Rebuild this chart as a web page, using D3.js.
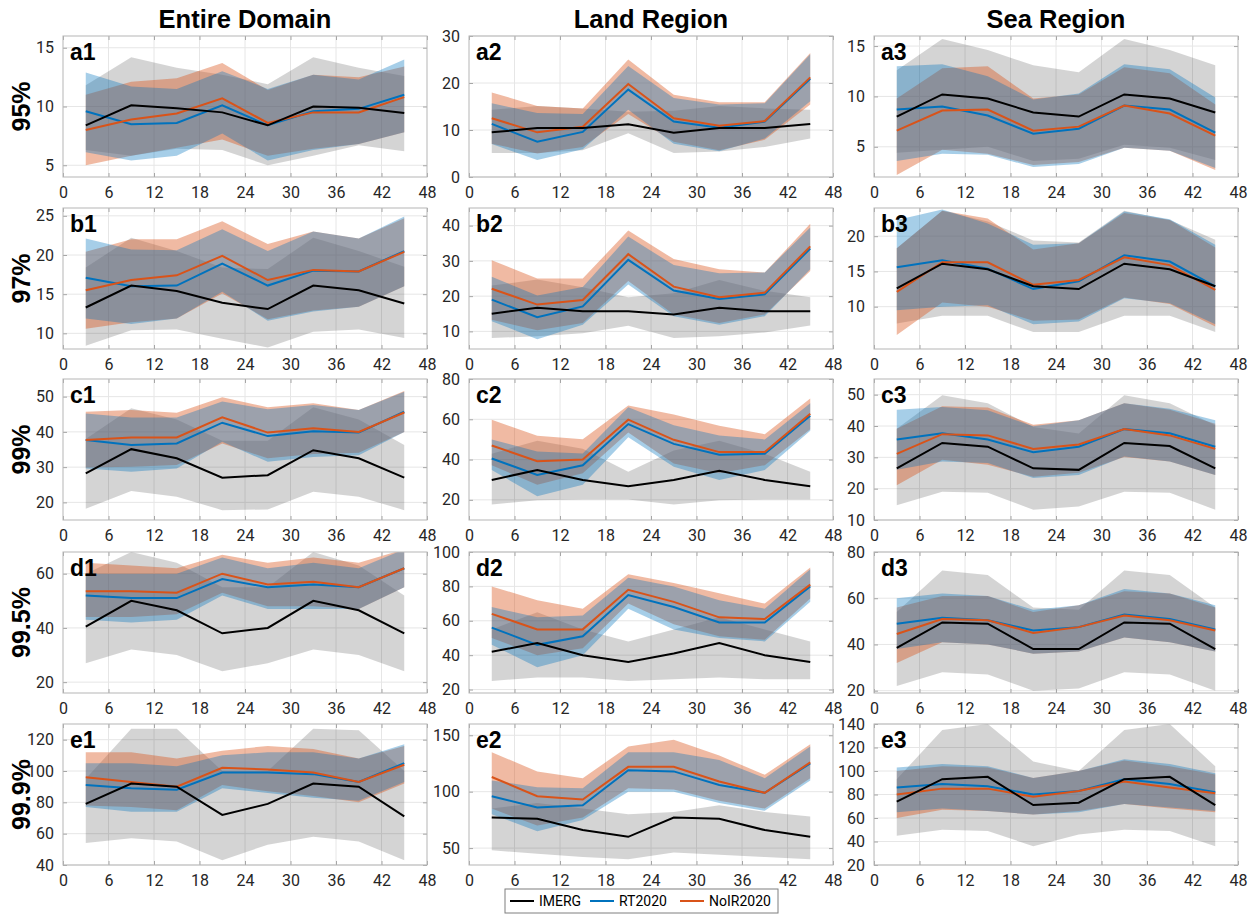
<!DOCTYPE html>
<html>
<head>
<meta charset="utf-8">
<script src="https://cdn.jsdelivr.net/npm/d3@7/dist/d3.min.js"></script>
<style>
  body { margin: 0; background: #fff; }
  svg text { font-family: Roboto, "Liberation Sans", sans-serif; }
</style>
</head>
<body>
<svg id="chart" width="1255" height="915"></svg>
<script>
// x positions (hour) of every point
const hours = [3, 9, 15, 21, 27, 33, 39, 45];
const xTicks = [0, 6, 12, 18, 24, 30, 36, 42, 48];
const colTitles = ['Entire Domain', 'Land Region', 'Sea Region'];
const rowLabels = ['95%', '97%', '99%', '99.5%', '99.9%'];
const panelIds = ['a1','a2','a3','b1','b2','b3','c1','c2','c3','d1','d2','d3','e1','e2','e3'];
const seriesNames = ['IMERG', 'RT2020', 'NoIR2020'];

const yDomains = [[4,16],[0,30],[2,16],[8,26],[5,45],[4,24],[15,55],[10,80],[10,55],
                  [16,68],[18,100],[19,80],[40,130],[35,160],[20,140]];
const yTicks = [[5,10,15],[0,10,20,30],[5,10,15],[10,15,20,25],[10,20,30,40],[10,15,20],
                [20,30,40,50],[20,40,60,80],[10,20,30,40,50],[20,40,60],[20,40,60,80,100],
                [20,40,60,80],[40,60,80,100,120],[50,100,150],[20,40,60,80,100,120,140]];

// IMERG
const imergMid = [
  [8.4,10.1,9.85,9.5,8.4,10.0,9.9,9.45],
  [9.5,10.4,10.4,11.2,9.4,10.4,10.4,11.3],
  [8.0,10.2,9.8,8.4,8.0,10.2,9.8,8.4],
  [13.3,16.1,15.4,13.9,13.1,16.1,15.5,13.8],
  [15.0,16.7,15.7,15.7,14.8,16.7,15.7,15.7],
  [12.6,16.1,15.3,12.9,12.5,16.1,15.3,12.9],
  [28.2,35.1,32.5,27.0,27.7,34.8,32.5,27.0],
  [29.9,34.8,29.9,26.7,29.9,34.5,29.9,26.7],
  [26.5,34.6,33.4,26.5,26.0,34.6,33.6,26.5],
  [40.5,50,46.5,38,40,50,46.5,38],
  [42,47,40,36,41,47,40,36],
  [38.5,49.5,49,38,38,49.5,49,38],
  [79,92,90,72,79,92,90,71],
  [77,76,66,60,77,76,66,60],
  [74,93,95,71,73,93,95,71]
];
const imergLo = [
  [6.3,5.8,6.4,6.3,5.0,5.8,6.7,6.2],
  [5.1,5.1,5.7,9.3,5.1,5.4,6.4,8.2],
  [4.4,4.7,5.0,3.6,3.8,5.2,4.9,3.7],
  [8.4,10.4,10.5,9.3,8.2,10.2,10.5,9.4],
  [8.1,8.6,9.5,11.6,8.1,8.6,9.7,11.7],
  [7.6,8.7,8.7,6.4,6.4,8.7,8.7,6.4],
  [18.2,23.2,21.6,17.8,18.0,23.0,21.6,17.8],
  [17.7,19.8,20.2,20.2,17.7,19.8,20.2,20.2],
  [14.7,19.0,18.7,13.3,14.3,19.0,18.7,13.3],
  [27,32,30,24,27,32,30,24],
  [25,27,27,25,26,27,26,26],
  [22,28,27,20,21,28,27,20],
  [54,57,55,43,53,58,55,43],
  [48,45,42,40,46,44,42,40],
  [45,50,49,36,46,50,49,36]
];
const imergHi = [
  [11.8,14.2,13.3,12.7,11.9,14.2,13.3,12.6],
  [14.3,15.1,14.6,13.9,14.1,15.1,14.6,14.3],
  [12.6,15.7,14.6,13.1,12.4,15.7,14.6,13.1],
  [18.4,22.2,20.5,18.4,18.2,22.2,20.5,18.5],
  [23.0,24.7,22.5,19.7,20.8,24.6,21.5,19.7],
  [18.3,23.6,22.1,19.4,19.1,23.6,22.3,19.5],
  [38.0,46.7,43.5,37.5,37.5,47.0,43.5,36.3],
  [42.9,49.4,45.4,34.0,44.5,49.4,42.9,34.0],
  [39.1,49.8,47.3,39.7,37.6,49.8,47.3,40.2],
  [60,68,64,55,55,68,63,52],
  [55,65,55,48,55,62,55,48],
  [54,72,70,56,55,72,70,56],
  [95,127,127,100,100,127,126,100],
  [85,90,85,80,82,88,82,78],
  [93,135,140,108,100,135,140,104]
];

// RT2020
const rtMid = [
  [9.6,8.5,8.6,10.1,8.4,9.6,9.8,11.0],
  [11.3,7.5,9.6,18.6,11.8,10.5,11.8,20.9],
  [8.7,9.0,8.1,6.3,6.8,9.1,8.7,6.4],
  [17.1,16.0,16.1,18.9,16.1,18.0,17.9,20.5],
  [19.0,14.0,17.1,30.3,21.6,19.2,20.5,33.5],
  [15.6,16.6,15.4,12.5,13.6,17.3,16.4,12.9],
  [37.7,36.3,36.7,42.6,38.8,40.2,39.8,45.7],
  [40.5,32.4,37.2,57.6,47.8,42.4,42.9,61.8],
  [35.7,37.7,35.7,31.6,33.4,39.0,37.7,33.4],
  [52,51,51,58,55,56,55,62],
  [56,46,51,75,68,59,59,80],
  [49,51.5,50.5,46,47.5,53,51,46.5],
  [91,89,88,99,99,98,93,105],
  [96,86,88,119,118,106,99,125],
  [86,89,87,80,83,93,89,82]
];
const rtLo = [
  [6.1,5.4,5.8,7.7,5.4,6.3,6.8,7.8],
  [7.0,3.6,5.9,14.3,7.1,5.5,8.2,16.1],
  [3.6,4.3,4.2,3.0,3.3,4.9,4.6,2.9],
  [11.9,11.2,11.9,15.3,11.6,12.8,13.4,16.0],
  [12.9,7.8,11.9,23.3,14.3,11.9,14.3,27.6],
  [9.5,10.0,10.2,7.5,7.9,11.2,10.5,7.5],
  [29.6,28.7,29.6,37.2,31.5,32.9,33.4,40.0],
  [34.8,21.8,27.5,51.1,36.4,29.9,34.8,54.3],
  [26.0,28.7,28.2,23.4,24.4,30.3,28.7,24.4],
  [43,42,43,52,47,47,47,55],
  [46,33,40,67,55,50,48,71],
  [38,41,40,36,37,43,41,37],
  [77,74,74,89,86,83,81,93],
  [80,65,75,100,100,90,83,110],
  [65,68,66,63,65,72,69,66]
];
const rtHi = [
  [12.9,11.7,11.5,13.0,11.5,12.7,12.3,14.0],
  [15.7,13.6,13.4,23.6,16.8,15.4,15.7,26.1],
  [13.0,13.2,12.0,9.7,10.3,13.2,12.7,9.9],
  [22.1,20.7,20.6,23.3,20.5,23.0,22.1,24.9],
  [25.5,20.2,22.6,36.9,28.8,26.5,26.7,39.5],
  [22.3,23.8,21.8,18.8,19.0,23.5,22.4,18.8],
  [45.2,44.1,44.1,48.6,46.4,47.6,46.2,51.4],
  [50,44,43,66,57,52,50,68],
  [45.2,46.1,45.0,39.9,41.8,47.3,45.5,41.8],
  [60,60,60,66,62,64,62,69],
  [68,62,63,85,80,72,67,90],
  [60,62,61,55,57,64,62,57],
  [105,105,103,110,112,112,108,117],
  [110,104,103,135,135,128,112,140],
  [103,106,104,94,100,110,106,98]
];

// NoIR2020
const noirMid = [
  [8.0,8.9,9.4,10.7,8.6,9.5,9.5,10.8],
  [12.5,9.5,10.7,19.8,12.5,10.9,11.9,21.2],
  [6.6,8.6,8.7,6.6,7.0,9.1,8.3,6.1],
  [15.5,16.8,17.4,19.9,16.8,18.1,17.9,20.4],
  [22.1,17.6,18.9,31.9,22.7,19.7,21.0,34.1],
  [12.1,16.3,16.3,13.1,13.8,17.0,15.9,12.4],
  [37.7,38.4,38.4,44.1,39.8,41.0,40.0,45.5],
  [47.0,39.2,40.0,59.8,49.8,43.7,43.7,62.7],
  [31.1,37.4,37.0,32.7,34.1,39.0,37.0,32.7],
  [53.5,53.5,53,60,56,57,55,62],
  [64,55,55,78,71,62,61,81],
  [44.5,51,50.5,45,47.5,52.5,50.5,46],
  [96,93,90,102,101,99,93,104],
  [113,96,93,122,122,109,99,126],
  [80,85,85,78,83,91,86,81]
];
const noirLo = [
  [5.0,5.8,6.5,7.2,5.8,6.4,6.8,7.8],
  [7.1,5.0,6.4,13.4,7.5,5.7,7.9,15.4],
  [2.2,4.7,4.3,3.2,3.5,4.9,4.6,2.7],
  [10.6,11.4,11.9,15.1,11.8,12.9,13.4,16.0],
  [13.3,10.3,12.4,24.3,14.8,12.4,14.8,27.1],
  [6.0,10.6,10.0,8.0,8.2,11.3,10.4,7.2],
  [29.9,30.1,30.6,36.7,32.5,33.7,34.1,40.0],
  [37.2,27.5,33.2,53.5,38.0,33.2,37.2,55.0],
  [21.1,29.2,27.6,23.8,25.1,30.1,28.7,24.4],
  [44,44,45,53,48,48,47,55],
  [50,40,44,70,58,51,49,73],
  [32,41,40,36,37,43,41,37],
  [78,77,75,91,87,84,80,92],
  [85,70,77,103,102,92,85,112],
  [60,67,66,63,66,72,68,65]
];
const noirHi = [
  [11.0,12.1,12.4,13.7,11.4,12.7,12.5,13.4],
  [18.0,15.1,14.6,25.0,17.5,15.9,15.9,26.4],
  [9.8,12.8,13.0,9.8,10.2,12.9,12.3,9.2],
  [20.4,22.0,22.0,24.3,21.4,23.0,22.1,24.7],
  [30.2,25.0,25.0,38.6,30.5,27.6,26.7,40.5],
  [18.3,23.6,22.5,18.1,19.0,23.3,22.3,18.4],
  [45.7,46.2,45.4,49.8,47.0,48.1,46.2,51.6],
  [59.8,51.8,50.1,66.9,62.4,56.8,52.6,70.3],
  [39.1,46.3,45.9,40.4,41.8,47.3,45.2,40.7],
  [64,63,62,67,64,66,64,69],
  [80,72,67,87,82,76,70,91],
  [56,61,61,54,57,63,62,56],
  [112,112,108,113,116,114,108,116],
  [135,118,112,140,146,132,115,142],
  [100,104,103,94,100,109,104,97]
];

const lineColors = ['#000000', '#0072BD', '#D95319'];
// shaded ranges: colour + opacity, drawn gray -> orange -> blue
const bandColors = ['#000000', '#0072BD', '#D95319'];
const bandAlpha = [0.17, 0.35, 0.4];

const svg = d3.select('#chart');
const colX = [63, 469, 874];
const rowY = [36, 208, 379, 552, 724];
const plotW = 364, plotH = 141;

const x = d3.scaleLinear().domain([0, 48]).range([0, plotW]);

// column titles
colTitles.forEach((t, c) => {
  svg.append('text')
    .attr('x', colX[c] + plotW / 2)
    .attr('y', 28)
    .attr('text-anchor', 'middle')
    .style('font-family', '"Liberation Sans", Arial, sans-serif')
    .style('font-weight', 'bold')
    .style('font-size', '25.5px')
    .attr('fill', '#000')
    .text(t);
});

// row labels
rowLabels.forEach((t, r) => {
  const cy = rowY[r] + plotH / 2;
  svg.append('text')
    .attr('transform', `translate(30,${cy}) rotate(-90)`)
    .attr('text-anchor', 'middle')
    .style('font-family', '"Liberation Sans", Arial, sans-serif')
    .style('font-weight', 'bold')
    .style('font-size', '25px')
    .attr('fill', '#000')
    .text(t);
});

panelIds.forEach((id, i) => {
  const r = Math.floor(i / 3), c = i % 3;
  const g = svg.append('g').attr('transform', `translate(${colX[c]},${rowY[r]})`);
  const y = d3.scaleLinear().domain(yDomains[i]).range([plotH, 0]);

  g.append('rect').attr('width', plotW).attr('height', plotH).attr('fill', '#fff');

  // grid
  g.append('g').selectAll('line').data(xTicks.slice(1, -1)).enter().append('line')
    .attr('x1', d => x(d)).attr('x2', d => x(d)).attr('y1', 0).attr('y2', plotH)
    .attr('stroke', '#e6e6e6').attr('stroke-width', 1);
  g.append('g').selectAll('line').data(yTicks[i]).enter().append('line')
    .attr('x1', 0).attr('x2', plotW).attr('y1', d => y(d)).attr('y2', d => y(d))
    .attr('stroke', '#e6e6e6').attr('stroke-width', 1);

  const clipId = 'clip-' + id;
  g.append('clipPath').attr('id', clipId)
    .append('rect').attr('width', plotW).attr('height', plotH);

  const area = d3.area()
    .x((d, k) => x(hours[k]))
    .y0(d => y(d[0]))
    .y1(d => y(d[1]));
  const line = d3.line()
    .x((d, k) => x(hours[k]))
    .y(d => y(d));

  const bands = [
    d3.zip(imergLo[i], imergHi[i]),
    d3.zip(rtLo[i], rtHi[i]),
    d3.zip(noirLo[i], noirHi[i])
  ];
  const mids = [imergMid[i], rtMid[i], noirMid[i]];

  const plot = g.append('g').attr('clip-path', `url(#${clipId})`);
  [0, 2, 1].forEach(s => {
    plot.append('path')
      .attr('d', area(bands[s]))
      .attr('fill', bandColors[s])
      .attr('fill-opacity', bandAlpha[s]);
  });
  [1, 2, 0].forEach(s => {
    plot.append('path')
      .attr('d', line(mids[s]))
      .attr('fill', 'none')
      .attr('stroke', lineColors[s])
      .attr('stroke-width', 2);
  });

  // axes (MATLAB style: ticks inside on all four sides)
  const ax = g.append('g').attr('transform', `translate(0,${plotH})`)
    .call(d3.axisBottom(x).tickValues(xTicks).tickSizeInner(-4).tickSizeOuter(0).tickPadding(10));
  g.append('g')
    .call(d3.axisTop(x).tickValues(xTicks).tickSizeInner(-4).tickSizeOuter(0).tickFormat(''));
  const ay = g.append('g')
    .call(d3.axisLeft(y).tickValues(yTicks[i]).tickSizeInner(-4).tickSizeOuter(0).tickPadding(9));
  g.append('g').attr('transform', `translate(${plotW},0)`)
    .call(d3.axisRight(y).tickValues(yTicks[i]).tickSizeInner(-4).tickSizeOuter(0).tickFormat(''));

  g.selectAll('.domain').remove();
  g.selectAll('.tick line').attr('stroke', '#a6a6a6');
  [ax, ay].forEach(a => a.selectAll('text')
    .style('font-family', 'Roboto, sans-serif')
    .style('font-size', '16px')
    .attr('fill', '#262626'));

  g.append('rect').attr('width', plotW).attr('height', plotH)
    .attr('fill', 'none').attr('stroke', '#b5b5b5').attr('stroke-width', 1);

  g.append('text')
    .attr('x', 7).attr('y', 24)
    .style('font-family', '"Liberation Sans", Arial, sans-serif')
    .style('font-weight', 'bold')
    .style('font-size', '23px')
    .attr('fill', '#000')
    .text(id);
});

// legend
const legend = svg.append('g').attr('transform', 'translate(505,889)');
legend.append('rect').attr('width', 273).attr('height', 24)
  .attr('fill', '#fff').attr('stroke', '#7f7f7f').attr('stroke-width', 1);
const legendX = [5, 85, 175];
seriesNames.forEach((n, s) => {
  const it = legend.append('g').attr('transform', `translate(${legendX[s]},12)`);
  it.append('line').attr('x1', 0).attr('x2', 24).attr('y1', 0).attr('y2', 0)
    .attr('stroke', lineColors[s]).attr('stroke-width', 2);
  it.append('text').attr('x', 29).attr('y', 5)
    .style('font-family', 'Roboto, sans-serif').style('font-size', '14px')
    .attr('fill', '#000').text(n);
});
</script>
</body>
</html>
